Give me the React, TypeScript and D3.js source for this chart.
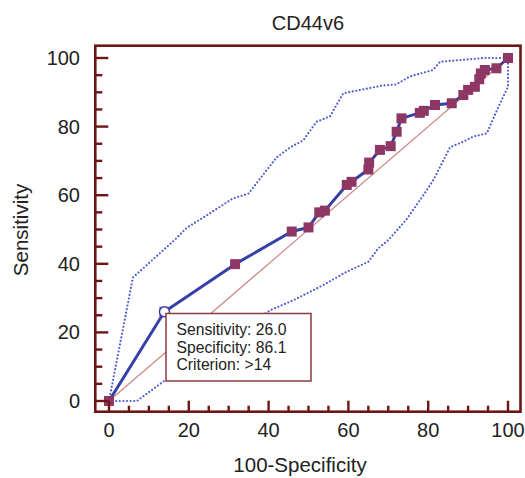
import * as d3 from "d3";

// ROC curve points: x = 100 - specificity, y = sensitivity
const rocX = [0, 13.9, 31.6, 45.8, 50.0, 52.7, 54.1, 59.6, 60.8, 65.0, 65.2, 67.9, 70.6, 72.1, 73.3, 77.9, 78.9, 81.7, 85.9, 88.8, 90.0, 91.7, 92.8, 93.2, 94.2, 97.1, 100];
const rocY = [0, 26.0, 39.9, 49.4, 50.6, 55.0, 55.5, 63.0, 63.9, 67.5, 69.5, 73.2, 74.3, 78.5, 82.4, 84.0, 84.6, 86.3, 86.8, 89.2, 90.7, 91.6, 93.8, 95.5, 96.5, 97.0, 100];

// 95% confidence bounds
const upperX = [0, 0.5, 6, 16.5, 19.5, 25, 31, 35, 38, 42, 45.5, 48.7, 52, 55.4, 58.7, 68.7, 72, 75.4, 81.2, 83, 88, 94, 100];
const upperY = [0, 3, 36, 47, 50.5, 54.5, 59, 60.5, 65, 71, 74, 76, 81.4, 83, 89.7, 92, 92.3, 94.6, 96.5, 98.9, 99.4, 100, 100];
const lowerX = [0, 7, 14, 40.5, 45.5, 48, 53.7, 59.6, 65, 67.5, 70, 74.6, 78.8, 81.3, 85.5, 88.8, 91.3, 94.7, 96.7, 98.8, 100, 100];
const lowerY = [0, 0, 6, 26.5, 29, 30.4, 33.8, 37.7, 40.6, 44.5, 46.9, 53, 60, 64.4, 74, 75.6, 77.1, 78, 83.4, 88.7, 91.6, 100];

const tickValues = [0, 20, 40, 60, 80, 100];
const minorTicks = d3.range(0, 101, 5);

const criterion = { x: 13.9, y: 26.0 };
const infoLines = ["Sensitivity: 26.0", "Specificity: 86.1", "Criterion: >14"];

const FONT = "Liberation Sans, Arial, sans-serif";
const DARK = "#6e1616";

export default function App() {
  const W = 525, H = 478;
  const x = d3.scaleLinear().domain([0, 100]).range([109, 508]);
  const y = d3.scaleLinear().domain([0, 100]).range([401, 58]);
  const frame = { x0: 95.3, y0: 45.7, x1: 520.5, y1: 411.7 };

  const line = d3.line<[number, number]>().x(d => x(d[0])).y(d => y(d[1]));
  const roc = rocX.map((v, i) => [v, rocY[i]] as [number, number]);
  const upper = upperX.map((v, i) => [v, upperY[i]] as [number, number]);
  const lower = lowerX.map((v, i) => [v, lowerY[i]] as [number, number]);

  const sq = 10;
  const bx = 166, by = 313.5, bw = 145, bh = 67.5;

  return (
    <div style={{ position: "fixed", left: 0, top: 0 }}>
      <svg width={W} height={H} style={{ display: "block", background: "#fff" }}>
        <text x={308} y={30} textAnchor="middle" fontFamily={FONT} fontSize={20} fill="#222">CD44v6</text>

        {/* diagonal reference */}
        <line x1={x(0)} y1={y(0)} x2={x(100)} y2={y(100)} stroke="#cc8888" strokeWidth={1.2} />

        {/* confidence bounds */}
        <path d={line(upper) || ""} fill="none" stroke="#4a5ad0" strokeWidth={2.2} strokeDasharray="0 3.6" strokeLinecap="round" />
        <path d={line(lower) || ""} fill="none" stroke="#4a5ad0" strokeWidth={2.2} strokeDasharray="0 3.6" strokeLinecap="round" />

        {/* ROC curve */}
        <path d={line(roc) || ""} fill="none" stroke="#3340a6" strokeWidth={3} strokeLinejoin="round" />
        {roc.map((d, i) => (
          <rect key={i} x={x(d[0]) - sq / 2} y={y(d[1]) - sq / 2} width={sq} height={sq} fill="#8f3764" />
        ))}
        <circle cx={x(criterion.x)} cy={y(criterion.y)} r={5} fill="#fff" stroke="#3340a6" strokeWidth={1.5} />

        {/* info box */}
        <rect x={bx} y={by} width={bw} height={bh} fill="#fff" stroke="#8b3a3f" strokeWidth={1.5} />
        {infoLines.map((t, i) => (
          <text key={t} x={176.5} y={335 + i * 17.5} fontFamily={FONT} fontSize={15.7} fill="#222">{t}</text>
        ))}

        {/* frame */}
        <rect x={frame.x0} y={frame.y0} width={frame.x1 - frame.x0} height={frame.y1 - frame.y0} fill="none" stroke={DARK} strokeWidth={2.6} />

        {/* left ticks */}
        {minorTicks.map(v => (
          <line key={"yl" + v} x1={frame.x0} x2={frame.x0 + (v % 20 === 0 ? 13 : 7)} y1={y(v)} y2={y(v)} stroke={DARK} strokeWidth={2.4} />
        ))}
        {/* bottom ticks */}
        {minorTicks.map(v => (
          <line key={"xb" + v} x1={x(v)} x2={x(v)} y1={frame.y1} y2={frame.y1 - (v % 20 === 0 ? 11 : 6)} stroke={DARK} strokeWidth={2.4} />
        ))}

        {tickValues.map(v => (
          <text key={"ytl" + v} x={80} y={y(v)} dy="0.35em" textAnchor="end" fontFamily={FONT} fontSize={20} fill="#222">{v}</text>
        ))}
        {tickValues.map(v => (
          <text key={"xtl" + v} x={x(v)} y={437} textAnchor="middle" fontFamily={FONT} fontSize={20} fill="#222">{v}</text>
        ))}

        <text x={300} y={472} textAnchor="middle" fontFamily={FONT} fontSize={20.5} fill="#222">100-Specificity</text>
        <text transform="translate(28,230) rotate(-90)" textAnchor="middle" fontFamily={FONT} fontSize={20.5} fill="#222">Sensitivity</text>
      </svg>
    </div>
  );
}
